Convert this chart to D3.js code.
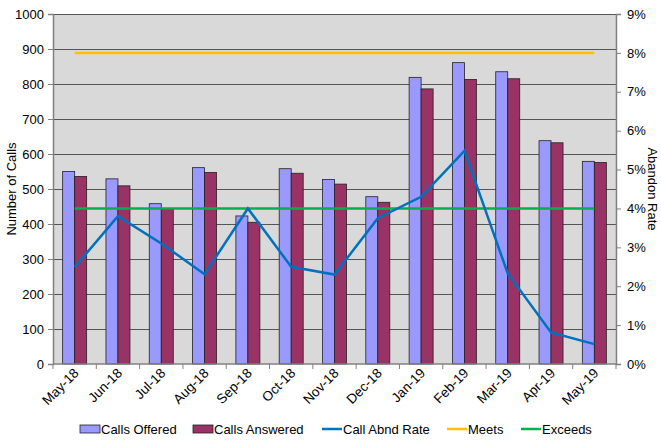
<!DOCTYPE html>
<html>
<head>
<meta charset="utf-8">
<script src="https://cdn.jsdelivr.net/npm/d3@7"></script>
<style>
body { margin: 0; background: #fff; }
text { font-family: "Liberation Sans", Arial, sans-serif; fill: #000; }
</style>
</head>
<body>
<div id="chart"></div>
<script>
var months = ["May-18", "Jun-18", "Jul-18", "Aug-18", "Sep-18", "Oct-18", "Nov-18",
	"Dec-18", "Jan-19", "Feb-19", "Mar-19", "Apr-19", "May-19"];
var callsOffered = [550, 529, 458, 561, 423, 558, 527, 478, 819, 861, 835, 638, 579];
var callsAnswered = [536, 509, 443, 547, 405, 545, 514, 462, 786, 813, 815, 632, 576];
var abndRate = [2.49, 3.8, 3.1, 2.31, 4.0, 2.5, 2.3, 3.75, 4.3, 5.48, 2.33, 0.81, 0.51];
var meets = 8;
var exceeds = 4;
var leftTicks = [0, 100, 200, 300, 400, 500, 600, 700, 800, 900, 1000];
var rightTicks = [0, 1, 2, 3, 4, 5, 6, 7, 8, 9];

var width = 661, height = 441;
var margin = {top: 14, right: 45, bottom: 77, left: 53};
var w = width - margin.left - margin.right;
var h = height - margin.top - margin.bottom;

var svg = d3.select("#chart").append("svg")
	.attr("width", width)
	.attr("height", height);

var g = svg.append("g")
	.attr("transform", "translate(" + margin.left + "," + margin.top + ")");

var x = d3.scaleBand().domain(months).range([0, w]);
var y = d3.scaleLinear().domain([0, 1000]).range([h, 0]);
var y2 = d3.scaleLinear().domain([0, 9]).range([h, 0]);

// plot background
g.append("rect")
	.attr("width", w).attr("height", h)
	.attr("fill", "#d9d9d9");

// gridlines
g.selectAll("line.grid")
	.data(leftTicks.slice(1))
	.enter().append("line")
		.attr("class", "grid")
		.attr("x1", 0).attr("x2", w)
		.attr("y1", function(d) { return Math.round(y(d)) + 0.5; })
		.attr("y2", function(d) { return Math.round(y(d)) + 0.5; })
		.attr("stroke", "#555")
		.attr("stroke-width", 1);

// bars
var barW = 12;
var groups = g.selectAll("g.month")
	.data(months)
	.enter().append("g")
		.attr("class", "month")
		.attr("transform", function(d) { return "translate(" + (x(d) + x.bandwidth() / 2) + ",0)"; });

groups.append("rect")
	.attr("x", -barW)
	.attr("y", function(d, i) { return y(callsOffered[i]); })
	.attr("width", barW)
	.attr("height", function(d, i) { return h - y(callsOffered[i]); })
	.attr("fill", "#9999ff")
	.attr("stroke", "#222").attr("stroke-width", 0.8);

groups.append("rect")
	.attr("x", 0)
	.attr("y", function(d, i) { return y(callsAnswered[i]); })
	.attr("width", barW)
	.attr("height", function(d, i) { return h - y(callsAnswered[i]); })
	.attr("fill", "#993366")
	.attr("stroke", "#222").attr("stroke-width", 0.8);

function cx(d) { return x(d) + x.bandwidth() / 2; }

// meets / exceeds
g.append("line")
	.attr("x1", cx(months[0])).attr("x2", cx(months[months.length - 1]))
	.attr("y1", y2(meets)).attr("y2", y2(meets))
	.attr("stroke", "#ffc000").attr("stroke-width", 2.5);

g.append("line")
	.attr("x1", cx(months[0])).attr("x2", cx(months[months.length - 1]))
	.attr("y1", y2(exceeds)).attr("y2", y2(exceeds))
	.attr("stroke", "#00b050").attr("stroke-width", 2.5);

// abandon rate line
var line = d3.line()
	.x(function(d, i) { return cx(months[i]); })
	.y(function(d) { return y2(d); });

g.append("path")
	.datum(abndRate)
	.attr("d", line)
	.attr("fill", "none")
	.attr("stroke", "#0070c0")
	.attr("stroke-width", 2.5)
	.attr("stroke-linejoin", "miter");

// axes
var leftAxis = g.append("g")
	.call(d3.axisLeft(y).tickValues(leftTicks).tickSize(5).tickPadding(4)
		.tickFormat(d3.format("d")));
var rightAxis = g.append("g")
	.attr("transform", "translate(" + w + ",0)")
	.call(d3.axisRight(y2).tickValues(rightTicks).tickSize(5).tickPadding(6)
		.tickFormat(function(d) { return d + "%"; }));

[leftAxis, rightAxis].forEach(function(a) {
	a.select(".domain").attr("stroke", "#808080").attr("stroke-width", 1.5);
	a.selectAll(".tick line").attr("stroke", "#808080");
	a.selectAll(".tick text").style("font-size", "13px");
});

// bottom axis with ticks between categories
g.append("line")
	.attr("x1", 0).attr("x2", w)
	.attr("y1", h).attr("y2", h)
	.attr("stroke", "#808080").attr("stroke-width", 1.5);

g.selectAll("line.xtick")
	.data(months.concat(["end"]))
	.enter().append("line")
		.attr("class", "xtick")
		.attr("x1", function(d, i) { return i * x.step(); })
		.attr("x2", function(d, i) { return i * x.step(); })
		.attr("y1", h).attr("y2", h + 5)
		.attr("stroke", "#808080");

g.selectAll("text.xlab")
	.data(months)
	.enter().append("text")
		.attr("class", "xlab")
		.attr("text-anchor", "end")
		.style("font-size", "13.5px")
		.attr("transform", function(d) {
			return "translate(" + (cx(d) + 5) + "," + (h + 10) + ") rotate(-45)";
		})
		.text(function(d) { return d; });

// axis titles
svg.append("text")
	.attr("transform", "translate(16," + (margin.top + h / 2) + ") rotate(-90)")
	.attr("text-anchor", "middle")
	.style("font-size", "13px")
	.text("Number of Calls");

svg.append("text")
	.attr("transform", "translate(648," + (margin.top + h / 2) + ") rotate(90)")
	.attr("text-anchor", "middle")
	.style("font-size", "13px")
	.text("Abandon Rate");

// legend
var legend = svg.append("g").attr("transform", "translate(0,429)");
var legendItems = [
	{name: "Calls Offered", type: "box", color: "#9999ff", x: 80},
	{name: "Calls Answered", type: "box", color: "#993366", x: 193},
	{name: "Call Abnd Rate", type: "line", color: "#0070c0", x: 322},
	{name: "Meets", type: "line", color: "#ffc000", x: 447},
	{name: "Exceeds", type: "line", color: "#00b050", x: 521}
];
legendItems.forEach(function(d) {
	if (d.type === "box") {
		legend.append("rect")
			.attr("x", d.x).attr("y", -4)
			.attr("width", 20).attr("height", 8)
			.attr("fill", d.color).attr("stroke", "#222").attr("stroke-width", 0.8);
	} else {
		legend.append("line")
			.attr("x1", d.x).attr("x2", d.x + 20)
			.attr("y1", 0).attr("y2", 0)
			.attr("stroke", d.color).attr("stroke-width", 2.5);
	}
	legend.append("text")
		.attr("x", d.x + 21).attr("y", 5)
		.style("font-size", "13px")
		.text(d.name);
});
</script>
</body>
</html>
